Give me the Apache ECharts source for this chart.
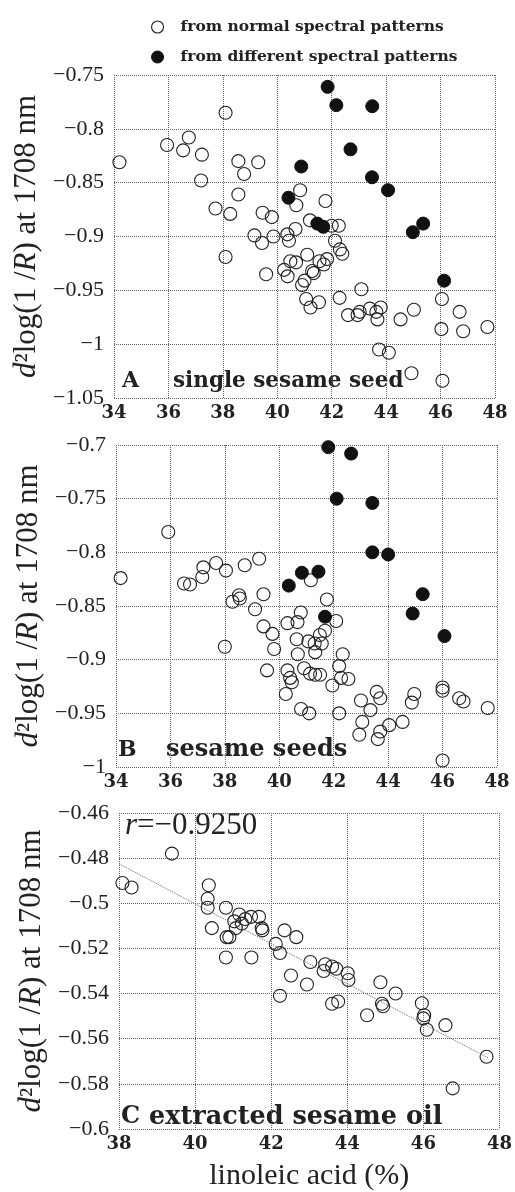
<!DOCTYPE html>
<html>
<head>
<meta charset="utf-8">
<script src="https://cdn.jsdelivr.net/npm/echarts@6/dist/echarts.min.js"></script>
<style>
  html, body { margin: 0; padding: 0; background: #fff; }
  #chart { width: 515px; height: 1192px; }
</style>
</head>
<body>
<div id="chart"></div>
<script>
// A: single sesame seed, normal spectral patterns
const aNormalX = [34.2, 38.1, 35.95, 36.75, 36.54, 37.23, 37.2, 38.57, 38.78, 39.3, 38.57, 37.73, 38.27, 39.46, 39.8,
  40.84, 40.7, 41.77, 41.2, 42.26, 42.0, 39.16, 39.44, 39.86, 40.37, 40.43, 40.67, 42.12, 42.3, 42.39, 38.1,
  39.59, 40.25, 40.38, 40.48, 40.69, 41.1, 41.55, 41.71, 41.83, 41.34, 41.28, 41.0, 40.91, 41.06, 41.22, 41.53,
  42.29, 43.09, 42.6, 42.95, 43.03, 43.4, 43.64, 43.8, 43.68, 44.53, 45.02, 46.05, 46.7, 46.03, 46.83, 47.72,
  43.74, 44.1, 44.93, 46.07]
const aNormalY = [-0.831, -0.785, -0.815, -0.808, -0.820, -0.824, -0.848, -0.830, -0.842, -0.831, -0.861, -0.874, -0.879, -0.878, -0.882,
  -0.857, -0.871, -0.867, -0.885, -0.890, -0.890, -0.899, -0.906, -0.900, -0.898, -0.904, -0.893, -0.904, -0.912, -0.916, -0.919,
  -0.935, -0.931, -0.937, -0.923, -0.924, -0.917, -0.923, -0.926, -0.921, -0.934, -0.932, -0.941, -0.945, -0.958, -0.966, -0.961,
  -0.957, -0.949, -0.973, -0.973, -0.970, -0.967, -0.970, -0.966, -0.977, -0.977, -0.968, -0.958, -0.970, -0.986, -0.988, -0.984,
  -1.005, -1.008, -1.027, -1.034]
// A: different spectral patterns
const aDiffX = [41.85, 42.17, 43.49, 42.69, 40.88, 43.48, 44.07, 40.41, 41.47, 41.69, 44.98, 45.36, 46.13]
const aDiffY = [-0.761, -0.778, -0.779, -0.819, -0.835, -0.845, -0.857, -0.864, -0.888, -0.891, -0.896, -0.888, -0.941]

// B: sesame seeds
const bNormalX = [34.17, 35.92, 36.5, 36.72, 37.17, 37.21, 37.68, 38.04, 38.73, 39.26, 41.16, 38.28, 38.52, 38.55, 39.42,
  39.11, 41.75, 40.79, 40.67, 40.3, 42.09, 39.42, 39.75, 41.68, 40.64, 41.49, 41.3, 41.07, 41.56, 38.0,
  39.81, 40.68, 41.32, 42.33, 42.2, 39.55, 40.3, 40.4, 40.46, 40.91, 41.13, 41.32, 41.5, 41.95, 42.27,
  42.54, 40.24, 43.58, 43.71, 43.0, 43.35, 44.96, 44.87, 46.0, 46.0, 46.61, 46.77, 47.66, 40.8, 41.1,
  42.2, 43.05, 42.94, 43.71, 43.62, 44.04, 44.53, 46.0]
const bNormalY = [-0.824, -0.781, -0.829, -0.830, -0.823, -0.814, -0.810, -0.817, -0.812, -0.806, -0.826, -0.846, -0.840, -0.843, -0.839,
  -0.853, -0.844, -0.856, -0.865, -0.866, -0.864, -0.869, -0.876, -0.873, -0.881, -0.877, -0.885, -0.883, -0.885, -0.888,
  -0.890, -0.895, -0.893, -0.895, -0.906, -0.910, -0.910, -0.917, -0.921, -0.908, -0.913, -0.914, -0.914, -0.924, -0.917,
  -0.918, -0.932, -0.930, -0.936, -0.938, -0.947, -0.932, -0.940, -0.926, -0.929, -0.936, -0.939, -0.945, -0.946, -0.950,
  -0.950, -0.958, -0.970, -0.967, -0.974, -0.961, -0.958, -0.994]
const bDiffX = [41.8, 42.64, 42.11, 43.42, 43.42, 44.0, 40.83, 41.44, 40.35, 45.27, 44.9, 41.68, 46.07]
const bDiffY = [-0.702, -0.708, -0.750, -0.754, -0.800, -0.802, -0.819, -0.818, -0.831, -0.839, -0.857, -0.860, -0.878]

// C: extracted sesame oil
const cX = [39.39, 38.09, 38.33, 40.36, 40.33, 40.33, 40.81, 40.44, 41.16, 41.03, 41.32, 41.47, 41.68, 41.75, 41.77,
  41.07, 41.23, 40.83, 40.9, 42.35, 42.66, 40.81, 41.48, 42.12, 42.23, 43.03, 43.42, 43.38, 43.6, 43.71,
  44.01, 44.03, 42.52, 42.94, 44.87, 42.23, 43.6, 43.76, 44.52, 44.91, 44.94, 45.27, 45.96, 46.02, 46.0,
  46.09, 46.58, 47.66, 46.77]
const cY = [-0.478, -0.491, -0.493, -0.492, -0.498, -0.502, -0.502, -0.511, -0.505, -0.508, -0.507, -0.506, -0.506, -0.511, -0.512,
  -0.511, -0.509, -0.515, -0.515, -0.512, -0.515, -0.524, -0.524, -0.518, -0.522, -0.526, -0.527, -0.530, -0.528, -0.529,
  -0.531, -0.534, -0.532, -0.536, -0.535, -0.541, -0.5445, -0.5435, -0.5496, -0.5445, -0.5456, -0.540, -0.5443, -0.5496, -0.551,
  -0.556, -0.554, -0.568, -0.582]
// regression line end points
const fitX = [38.0, 47.7]
const fitY = [-0.4825, -0.5685]

const nameNormal = 'from normal spectral patterns'
const nameDiff = 'from different spectral patterns'

const zip = (xs, ys) => xs.map((x, i) => [x, ys[i]])

const serif = 'Liberation Serif'
const gridLine = { show: true, lineStyle: { type: 'dotted', color: '#666', width: 1 } }
const minus = v => String(+v.toFixed(2)).replace('-', '\u2212')

function xAxisOf(idx, min, extra) {
  return Object.assign({
    type: 'value', gridIndex: idx, min: min, max: 48, interval: 2,
    axisLine: { show: false }, axisTick: { show: false },
    splitLine: gridLine,
    axisLabel: { margin: 6, color: '#222', fontFamily: 'DejaVu Serif', fontWeight: 'bold', fontSize: 18 }
  }, extra || {})
}

function yAxisOf(idx, min, max, interval) {
  return {
    type: 'value', gridIndex: idx, min: min, max: max, interval: interval,
    axisLine: { show: false }, axisTick: { show: false },
    splitLine: gridLine,
    axisLabel: { margin: 10, color: '#222', fontFamily: serif, fontSize: 22, formatter: minus },
    name: '{i|d}²log(1 /{i|R}) at 1708 nm',
    nameLocation: 'middle',
    nameGap: 70,
    nameTextStyle: {
      color: '#222', fontFamily: serif, fontSize: 31,
      rich: { i: { fontStyle: 'italic', fontFamily: serif, fontSize: 31, color: '#222' } }
    }
  }
}

const openStyle = { color: 'rgba(0,0,0,0)', borderColor: '#222', borderWidth: 1.1, opacity: 1 }
const fillStyle = { color: '#111', borderColor: '#111', borderWidth: 1, opacity: 1 }

const chart = echarts.init(document.getElementById('chart'))
chart.setOption({
  animation: false,
  backgroundColor: '#fff',
  legend: {
    orient: 'vertical',
    left: 146, top: 14,
    itemWidth: 30, itemHeight: 12, itemGap: 14,
    textStyle: { fontFamily: 'DejaVu Serif', fontWeight: 'bold', fontSize: 15.5, color: '#222', lineHeight: 16, padding: [0, 0, 0, 3] },
    data: [
      { name: nameNormal, icon: 'circle', itemStyle: { color: '#fff', borderColor: '#222', borderWidth: 1.1, opacity: 1 } },
      { name: nameDiff, icon: 'circle', itemStyle: { color: '#111', borderColor: '#111', borderWidth: 1, opacity: 1 } }
    ]
  },
  grid: [
    { left: 114, top: 75, width: 381, height: 323 },
    { left: 116, top: 445, width: 381, height: 322 },
    { left: 119, top: 813, width: 383, height: 322 }
  ],
  xAxis: [
    xAxisOf(0, 34),
    xAxisOf(1, 34),
    xAxisOf(2, 38, {
      name: 'linoleic acid (%)', nameLocation: 'middle', nameGap: 32,
      nameTextStyle: { color: '#222', fontFamily: serif, fontSize: 30 }
    })
  ],
  yAxis: [
    yAxisOf(0, -1.05, -0.75, 0.05),
    yAxisOf(1, -1, -0.7, 0.05),
    yAxisOf(2, -0.6, -0.46, 0.02)
  ],
  graphic: [
    { type: 'text', x: 122, y: 381, style: { text: 'A', font: 'bold 22px "DejaVu Serif"', fill: '#222', verticalAlign: 'middle' } },
    { type: 'text', x: 173, y: 381, style: { text: 'single sesame seed', font: 'bold 21.5px "DejaVu Serif"', fill: '#222', verticalAlign: 'middle' } },
    { type: 'text', x: 118, y: 750, style: { text: 'B', font: 'bold 22px "DejaVu Serif"', fill: '#222', verticalAlign: 'middle' } },
    { type: 'text', x: 166, y: 750, style: { text: 'sesame seeds', font: 'bold 24px "DejaVu Serif"', fill: '#222', verticalAlign: 'middle' } },
    { type: 'text', x: 121, y: 1117, style: { text: 'C', font: 'bold 24px "DejaVu Serif"', fill: '#222', verticalAlign: 'middle' } },
    { type: 'text', x: 149, y: 1117, style: { text: 'extracted sesame oil', font: 'bold 25.5px "DejaVu Serif"', fill: '#222', verticalAlign: 'middle' } },
    {
      type: 'text', x: 125, y: 826,
      style: {
        text: '{i|r}=\u22120.9250', fill: '#222', verticalAlign: 'middle',
        font: '31px "Liberation Serif"',
        rich: { i: { fontStyle: 'italic', fontSize: 31, fontFamily: serif, fill: '#222' } }
      }
    }
  ],
  series: [
    { name: nameNormal, type: 'scatter', xAxisIndex: 0, yAxisIndex: 0, symbolSize: 13, itemStyle: openStyle, data: zip(aNormalX, aNormalY) },
    { name: nameDiff, type: 'scatter', xAxisIndex: 0, yAxisIndex: 0, symbolSize: 13, itemStyle: fillStyle, data: zip(aDiffX, aDiffY) },
    { name: nameNormal, type: 'scatter', xAxisIndex: 1, yAxisIndex: 1, symbolSize: 13, itemStyle: openStyle, data: zip(bNormalX, bNormalY) },
    { name: nameDiff, type: 'scatter', xAxisIndex: 1, yAxisIndex: 1, symbolSize: 13, itemStyle: fillStyle, data: zip(bDiffX, bDiffY) },
    {
      name: 'fit', type: 'line', xAxisIndex: 2, yAxisIndex: 2, showSymbol: false, silent: true,
      lineStyle: { type: 'dotted', color: '#666', width: 1 }, data: zip(fitX, fitY)
    },
    { name: 'oil', type: 'scatter', xAxisIndex: 2, yAxisIndex: 2, symbolSize: 13, itemStyle: openStyle, data: zip(cX, cY) }
  ]
})
</script>
</body>
</html>
